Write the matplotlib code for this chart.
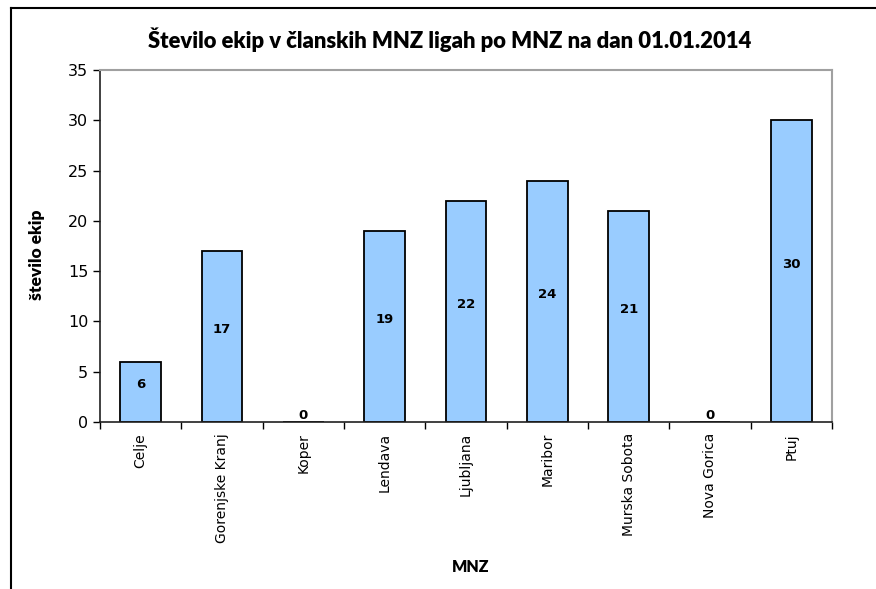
import matplotlib.pyplot as plt
import numpy as np
from matplotlib.lines import Line2D
from matplotlib.ticker import FixedLocator

categories = ["Celje", "Gorenjske Kranj", "Koper", "Lendava", "Ljubljana",
              "Maribor", "Murska Sobota", "Nova Gorica", "Ptuj"]
teams = [6, 17, 0, 19, 22, 24, 21, 0, 30]
y_ticks = [0, 5, 10, 15, 20, 25, 30, 35]

title = "Število ekip v članskih MNZ ligah po MNZ na dan 01.01.2014"
y_label = "število ekip"
x_label = "MNZ"

fig = plt.figure(figsize=(8.76, 5.89), dpi=100)
ax = fig.add_axes([100 / 876, 1 - 422 / 589, 732 / 876, 352 / 589])

x = np.arange(len(categories))
ax.bar(x, teams, width=0.5, color="#99ccff", edgecolor="black", linewidth=1.3, zorder=2)

for xi, v in zip(x, teams):
    ax.annotate(str(v), (xi, v / 2), xytext=(0, 5), textcoords="offset points",
                ha="center", va="center", fontsize=9.5, fontweight="bold",
                family="DejaVu Sans")

ax.set_xlim(-0.5, len(categories) - 0.5)
ax.set_ylim(0, 35)
ax.set_yticks(y_ticks)
ax.tick_params(axis="y", direction="out", length=5, labelsize=11.5, width=1)

ax.set_xticks(x)
ax.set_xticklabels(categories, rotation=90, fontsize=10)
ax.tick_params(axis="x", which="major", length=0, pad=8)
ax.xaxis.set_minor_locator(FixedLocator(np.arange(len(categories) + 1) - 0.5))
ax.tick_params(axis="x", which="minor", direction="out", length=5, width=1)

for side in ("top", "right"):
    ax.spines[side].set_color("#a0a0a0")
    ax.spines[side].set_linewidth(1.5)
for side in ("left", "bottom"):
    ax.spines[side].set_color("#202020")
    ax.spines[side].set_linewidth(1.2)

fig.text(450 / 876, 1 - 40 / 589, title, ha="center", va="center",
         fontsize=15.8, fontweight="heavy", family="Lato")
fig.text(37 / 876, 1 - 255 / 589, y_label, ha="center", va="center", rotation=90,
         fontsize=12.5, fontweight="heavy", family="Lato")
fig.text(471 / 876, 1 - 567 / 589, x_label, ha="center", va="center",
         fontsize=11.5, fontweight="heavy", family="Lato")

# outer chart frame (only top and left edges visible)
fig.add_artist(Line2D([11 / 876, 1], [1 - 8 / 589, 1 - 8 / 589], color="black", lw=1.5))
fig.add_artist(Line2D([11 / 876, 11 / 876], [0, 1 - 8 / 589], color="black", lw=1.5))

fig.savefig("out.png", dpi=100)
